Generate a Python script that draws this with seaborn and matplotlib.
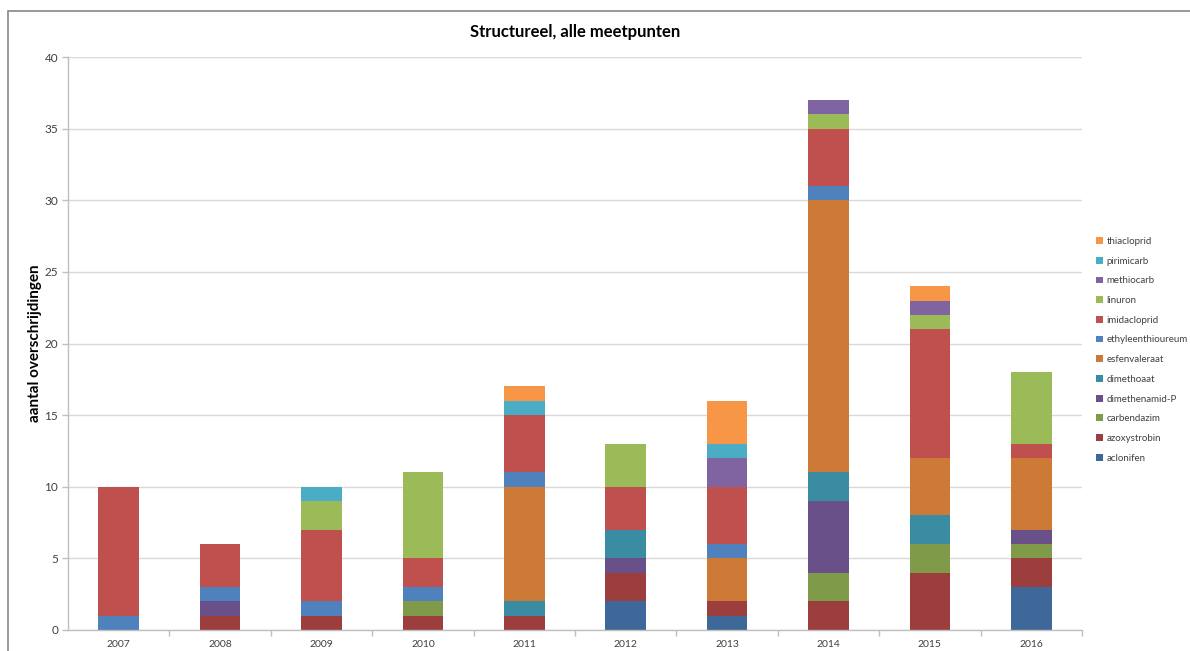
import numpy as np
import pandas as pd
import matplotlib
matplotlib.use("Agg")
import matplotlib.pyplot as plt
from matplotlib.patches import Patch, Rectangle
import seaborn as sns

years = ["2007", "2008", "2009", "2010", "2011", "2012", "2013", "2014", "2015", "2016"]

# series in stacking order (bottom -> top)
aclonifen         = [0, 0, 0, 0, 0, 2, 1, 0, 0, 3]
azoxystrobin      = [0, 1, 1, 1, 1, 2, 1, 2, 4, 2]
carbendazim       = [0, 0, 0, 1, 0, 0, 0, 2, 2, 1]
dimethenamid_P    = [0, 1, 0, 0, 0, 1, 0, 5, 0, 1]
dimethoaat        = [0, 0, 0, 0, 1, 2, 0, 2, 2, 0]
esfenvaleraat     = [0, 0, 0, 0, 8, 0, 3, 19, 4, 5]
ethyleenthioureum = [1, 1, 1, 1, 1, 0, 1, 1, 0, 0]
imidacloprid      = [9, 3, 5, 2, 4, 3, 4, 4, 9, 1]
linuron           = [0, 0, 2, 6, 0, 3, 0, 1, 1, 5]
methiocarb        = [0, 0, 0, 0, 0, 0, 2, 1, 1, 0]
pirimicarb        = [0, 0, 1, 0, 1, 0, 1, 0, 0, 0]
thiacloprid       = [0, 0, 0, 0, 1, 0, 3, 0, 1, 0]

series_names = ["aclonifen", "azoxystrobin", "carbendazim", "dimethenamid-P",
                "dimethoaat", "esfenvaleraat", "ethyleenthioureum", "imidacloprid",
                "linuron", "methiocarb", "pirimicarb", "thiacloprid"]
series_values = [aclonifen, azoxystrobin, carbendazim, dimethenamid_P, dimethoaat,
                 esfenvaleraat, ethyleenthioureum, imidacloprid, linuron, methiocarb,
                 pirimicarb, thiacloprid]
colors = ["#3D6899", "#9C3E3D", "#7F9A48", "#6A5089", "#3A8CA3", "#CC7A36",
          "#4F81BD", "#C0504D", "#9BBB59", "#8064A2", "#4BACC6", "#F79646"]

title = "Structureel, alle meetpunten"
ylabel = "aantal overschrijdingen"

sns.set_theme(style="white")
plt.rcParams["font.family"] = ["Lato", "DejaVu Sans"]

fig = plt.figure(figsize=(11.9, 6.51), dpi=100)
ax = fig.add_axes([68 / 1190, 21 / 651, (1082 - 68) / 1190, (630 - 57) / 651])

vals = np.array(series_values, dtype=float)
cum = np.cumsum(vals, axis=0)

# draw cumulative heights top-down so lower layers overlay upper ones
for i in range(len(series_names) - 1, -1, -1):
    df = pd.DataFrame({"year": years, "value": cum[i]})
    sns.barplot(data=df, x="year", y="value", color=colors[i], saturation=1,
                width=0.4, ax=ax, linewidth=0, errorbar=None, order=years)

ax.set_ylim(0, 40)
ax.set_xlim(-0.5, len(years) - 0.5)
ax.set_yticks(np.arange(0, 41, 5))
ax.yaxis.grid(True, color="#D9D9D9", linewidth=1.0)
ax.set_axisbelow(True)
for s in ["top", "right"]:
    ax.spines[s].set_visible(False)
ax.spines["left"].set_color("#BFBFBF")
ax.spines["bottom"].set_color("#BFBFBF")
ax.spines["left"].set_linewidth(1.0)
ax.spines["bottom"].set_linewidth(1.0)

ax.tick_params(axis="y", which="major", left=True, length=4, width=1, color="#BFBFBF",
               labelsize=8.5, labelcolor="#404040", pad=3)
ax.tick_params(axis="x", which="major", bottom=False, labelsize=7.5, labelcolor="#404040", pad=1)
ax.set_xticks(np.arange(0.5, len(years), 1.0), minor=True)
ax.tick_params(axis="x", which="minor", bottom=True, length=4, width=1, color="#BFBFBF")

ax.set_xlabel("")
ax.set_ylabel(ylabel, fontsize=11, fontweight="bold", color="black", labelpad=2)
fig.text(0.5 * (68 + 1082) / 1190 + 0.0, 1 - 32 / 651, title, ha="center", va="center",
         fontsize=12, fontweight="bold", color="black")

handles = [Patch(facecolor=colors[i], edgecolor="none", label=series_names[i])
           for i in range(len(series_names) - 1, -1, -1)]
fig.legend(handles=handles, loc="upper left", bbox_to_anchor=(1096 / 1190, 1 - 237 / 651),
           frameon=False, fontsize=7, handlelength=0.7, handleheight=0.7,
           handletextpad=0.4, labelspacing=1.1, borderaxespad=0, borderpad=0,
           labelcolor="#404040")

# outer chart border
fig.patches.append(Rectangle((8 / 1190, -0.1), 1.2, 1 - 11 / 651 + 0.1,
                             transform=fig.transFigure, fill=False,
                             edgecolor="#868686", linewidth=1.2))

fig.savefig("out.png", dpi=100)
